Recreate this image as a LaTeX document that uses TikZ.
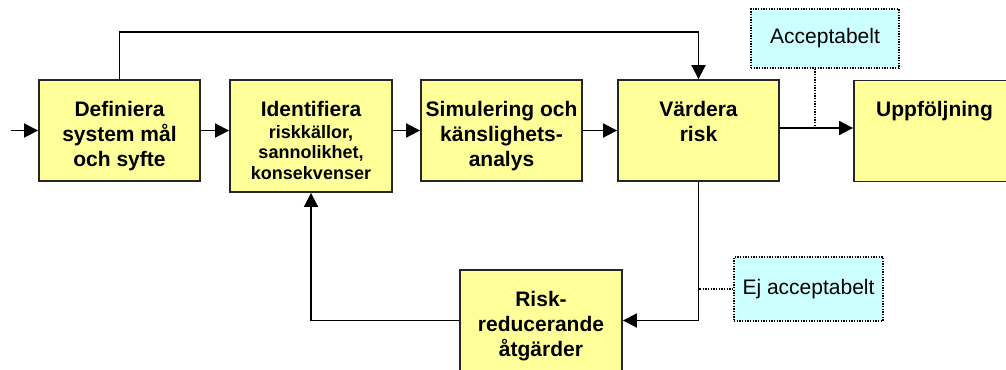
\documentclass[tikz,border=0pt]{standalone}
\usepackage{fontspec}
\setmainfont{Liberation Sans}
\usetikzlibrary{arrows.meta,calc}
\definecolor{boxyellow}{HTML}{FFFF99}
\definecolor{boxcyan}{HTML}{CCFFFF}
\newcommand{\titlef}{\fontsize{15.75pt}{18.75pt}\selectfont\bfseries}
\newcommand{\subf}{\fontsize{13.5pt}{15.4pt}\selectfont\bfseries}
\newcommand{\labf}{\fontsize{15.75pt}{18.75pt}\selectfont}
\tikzset{
  blk/.style={draw=black!85, fill=boxyellow, line width=1.4pt, inner sep=0pt,
    minimum width=120.75pt, minimum height=75.75pt},
  blktext/.style={anchor=north, inner sep=0pt, align=center, font=\titlef},
  lab/.style={draw=black, fill=boxcyan, line width=0.9pt, dash pattern=on 1pt off 1pt,
    inner sep=0pt, font=\labf, align=center},
  conn/.style={line width=1.4pt, -{Triangle[length=10.5pt,width=10.5pt]}},
  plainconn/.style={line width=1.4pt},
  dotconn/.style={line width=0.9pt, dash pattern=on 1pt off 1pt},
}
\begin{document}
\begin{tikzpicture}[x=0.75pt, y=-0.75pt]
\clip (0,0) rectangle (1006,369);
\fill[white] (0,0) rectangle (1006,369);
% boxes
\node[blk] (b1) at (119.5,130.5) {};
\node[blk, minimum width=121.5pt, minimum height=84pt] (b2) at (311,136) {};
\node[blk] (b3) at (501.5,130.5) {};
\node[blk] (b4) at (698.5,130.5) {};
\node[blk] (b5) at (934.5,131) {};
\node[blk, minimum width=121.5pt] (risk) at (541,320.5) {};
% texts
\node[blktext] (b1t) at ($(b1.north)+(0,21.5)$) {Definiera\\system mål\\och syfte};
\node[blktext, font=\subf] (b2t) at ($(b2.north)+(0,21.5)$) {{\titlef Identifiera}\\[1.1pt]riskkällor,\\sannolikhet,\\konsekvenser};
\node[blktext] (b3t) at ($(b3.north)+(0,21.5)$) {Simulering och\\känslighets-\\analys};
\node[blktext] (b4t) at ($(b4.north)+(0,21.5)$) {Värdera\\risk};
\node[blktext] (b5t) at ($(b5.north)+(0,21.5)$) {Uppföljning};
\node[blktext] (riskt) at ($(risk.north)+(0,21.5)$) {Risk-\\reducerande\\åtgärder};
% labels
\node[lab, minimum width=111pt, minimum height=44.25pt] (acc) at (825,38.5) {Acceptabelt};
\node[lab, minimum width=111.75pt, minimum height=48pt] (ej) at (808.5,289) {Ej acceptabelt};
% coordinates
\coordinate (in) at (11,130.5);
\coordinate (top) at (698.5,32);
\coordinate (jx) at (815,128);
% connectors
\draw[conn] (in) -- (b1.west);
\draw[conn] (b1.east) -- (b1.east -| b2.west);
\draw[conn] (b3.west -| b2.east) -- (b3.west);
\draw[conn] (b3.east) -- (b4.west);
\draw[conn] ($(b4.east)+(0,-2.5)$) -- ($(b5.west)+(0,-3)$);
\draw[conn] (b1.north) |- (top) -- (b4.north);
\draw[conn] (b4.south) |- (risk.east);
\draw[conn] (risk.west) -| (b2.south);
\draw[dotconn] (acc.south -| jx) -- (jx);
\draw[dotconn] (ej.west) -- (ej.west -| b4.south);
\end{tikzpicture}
\end{document}
